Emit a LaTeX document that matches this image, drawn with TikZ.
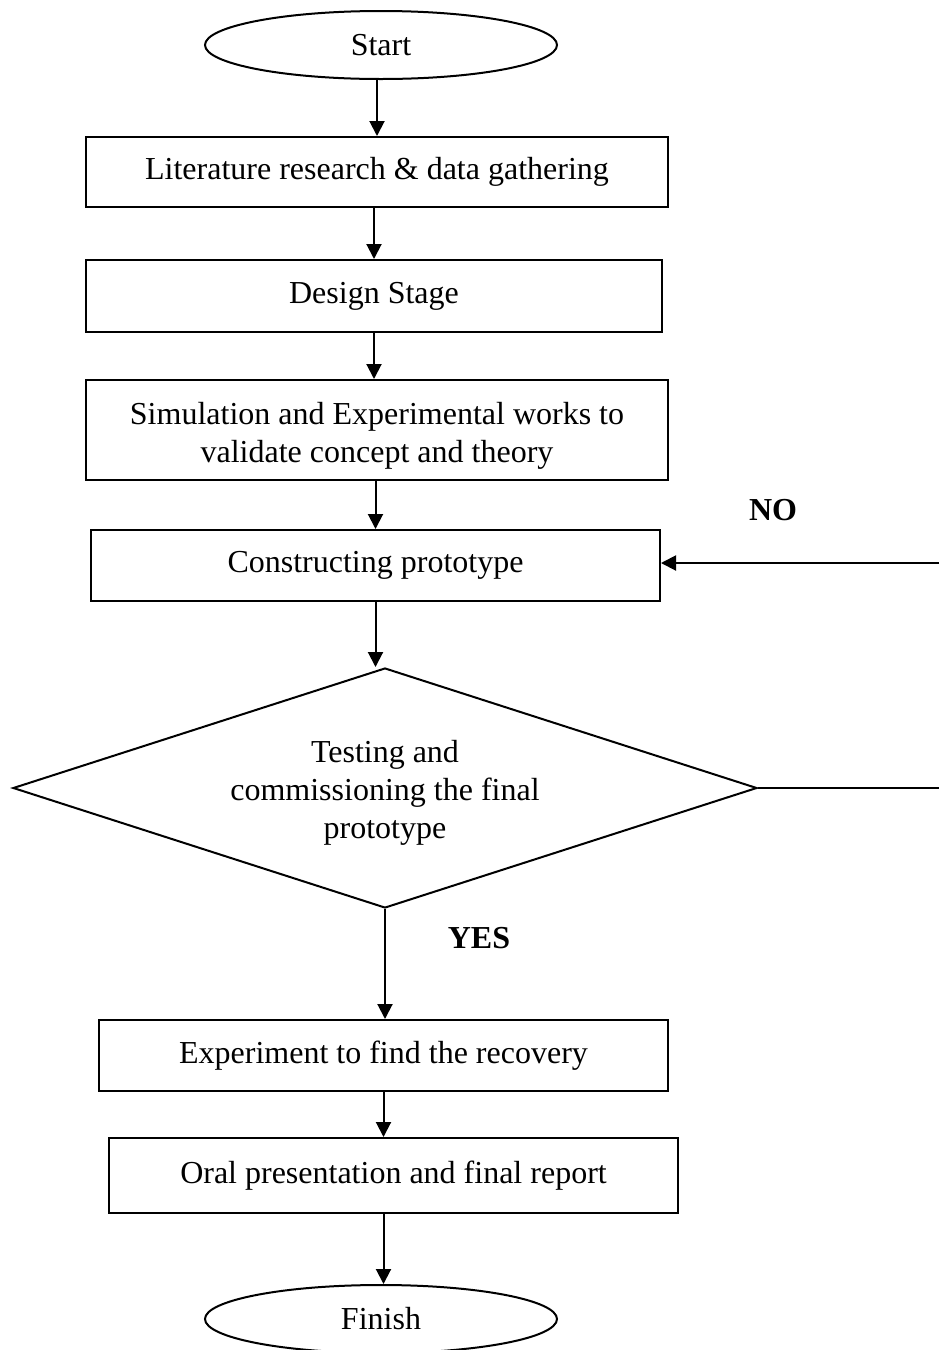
\documentclass[tikz,border=0pt]{standalone}
\usepackage{fontspec}
\setmainfont{Liberation Serif}
\usetikzlibrary{arrows.meta,shapes.geometric}

\tikzset{
StageStyle/.style = {
shape = rectangle,
draw,
line width = 1pt,
align = center,
inner sep = 0pt,
font = \fontsize{16}{19}\selectfont},
EndStyle/.style = {
shape = ellipse,
draw,
line width = 1pt,
minimum width = 176pt,
minimum height = 34pt,
inner sep = 0pt,
font = \fontsize{16}{19}\selectfont},
DecisionStyle/.style = {
shape = diamond,
draw,
line width = 1pt,
align = center,
aspect = 3.1,
minimum width = 372pt,
minimum height = 120pt,
inner sep = 0pt,
font = \fontsize{16}{19}\selectfont},
AnswerStyle/.style = {font = \fontsize{16}{19}\selectfont\bfseries},
FlowStyle/.style = {line width = 1pt, -{Triangle[length=7.5pt,width=7.5pt]}}
}

\begin{document}
\begin{tikzpicture}[x=0.5pt,y=-0.5pt]
\useasboundingbox (0,0) rectangle (939,1350);
\node[EndStyle] (start) at (381,45) {Start};
\node[StageStyle,minimum width=291pt,minimum height=35pt] (lit) at (377,172) {Literature research \& data gathering};
\node[StageStyle,minimum width=288pt,minimum height=36pt] (design) at (374,296) {Design Stage};
\node[StageStyle,minimum width=291pt,minimum height=50pt,text height=32pt,text depth=0pt] (sim) at (377,430) {Simulation and Experimental works to\\validate concept and theory};
\node[StageStyle,minimum width=284.5pt,minimum height=35.5pt] (cons) at (375.5,565.5) {Constructing prototype};
\node[DecisionStyle,text height=50pt,text depth=0pt] (test) at (385,788) {Testing and\\commissioning the final\\prototype};
\node[StageStyle,minimum width=284.5pt,minimum height=35.5pt] (exp) at (383.5,1055.5) {Experiment to find the recovery};
\node[StageStyle,minimum width=284.5pt,minimum height=37.5pt] (oral) at (393.5,1175.5) {Oral presentation and final report};
\node[EndStyle] (finish) at (381,1319) {Finish};
\node[AnswerStyle] (no) at (773,510) {NO};
\node[AnswerStyle] (yes) at (479,938) {YES};
\coordinate (noin) at (939,563);
\coordinate (noout) at (939,788);
\draw[FlowStyle] (lit.north |- start.south) -- (lit.north);
\draw[FlowStyle] (lit.south -| design.north) -- (design.north);
\draw[FlowStyle] (design.south) -- (design.south |- sim.north);
\draw[FlowStyle] (cons.north |- sim.south) -- (cons.north);
\draw[FlowStyle] (cons.south) -- (cons.south |- test.north);
\draw[FlowStyle] (test.south) -- (test.south |- exp.north);
\draw[FlowStyle] (exp.south) -- (exp.south |- oral.north);
\draw[FlowStyle] (oral.south -| exp.south) -- (exp.south |- finish.north);
\draw[FlowStyle] (noin) -- (noin -| cons.east);
\draw[line width=1pt] (test.east) -- (noout);
\end{tikzpicture}
\end{document}
